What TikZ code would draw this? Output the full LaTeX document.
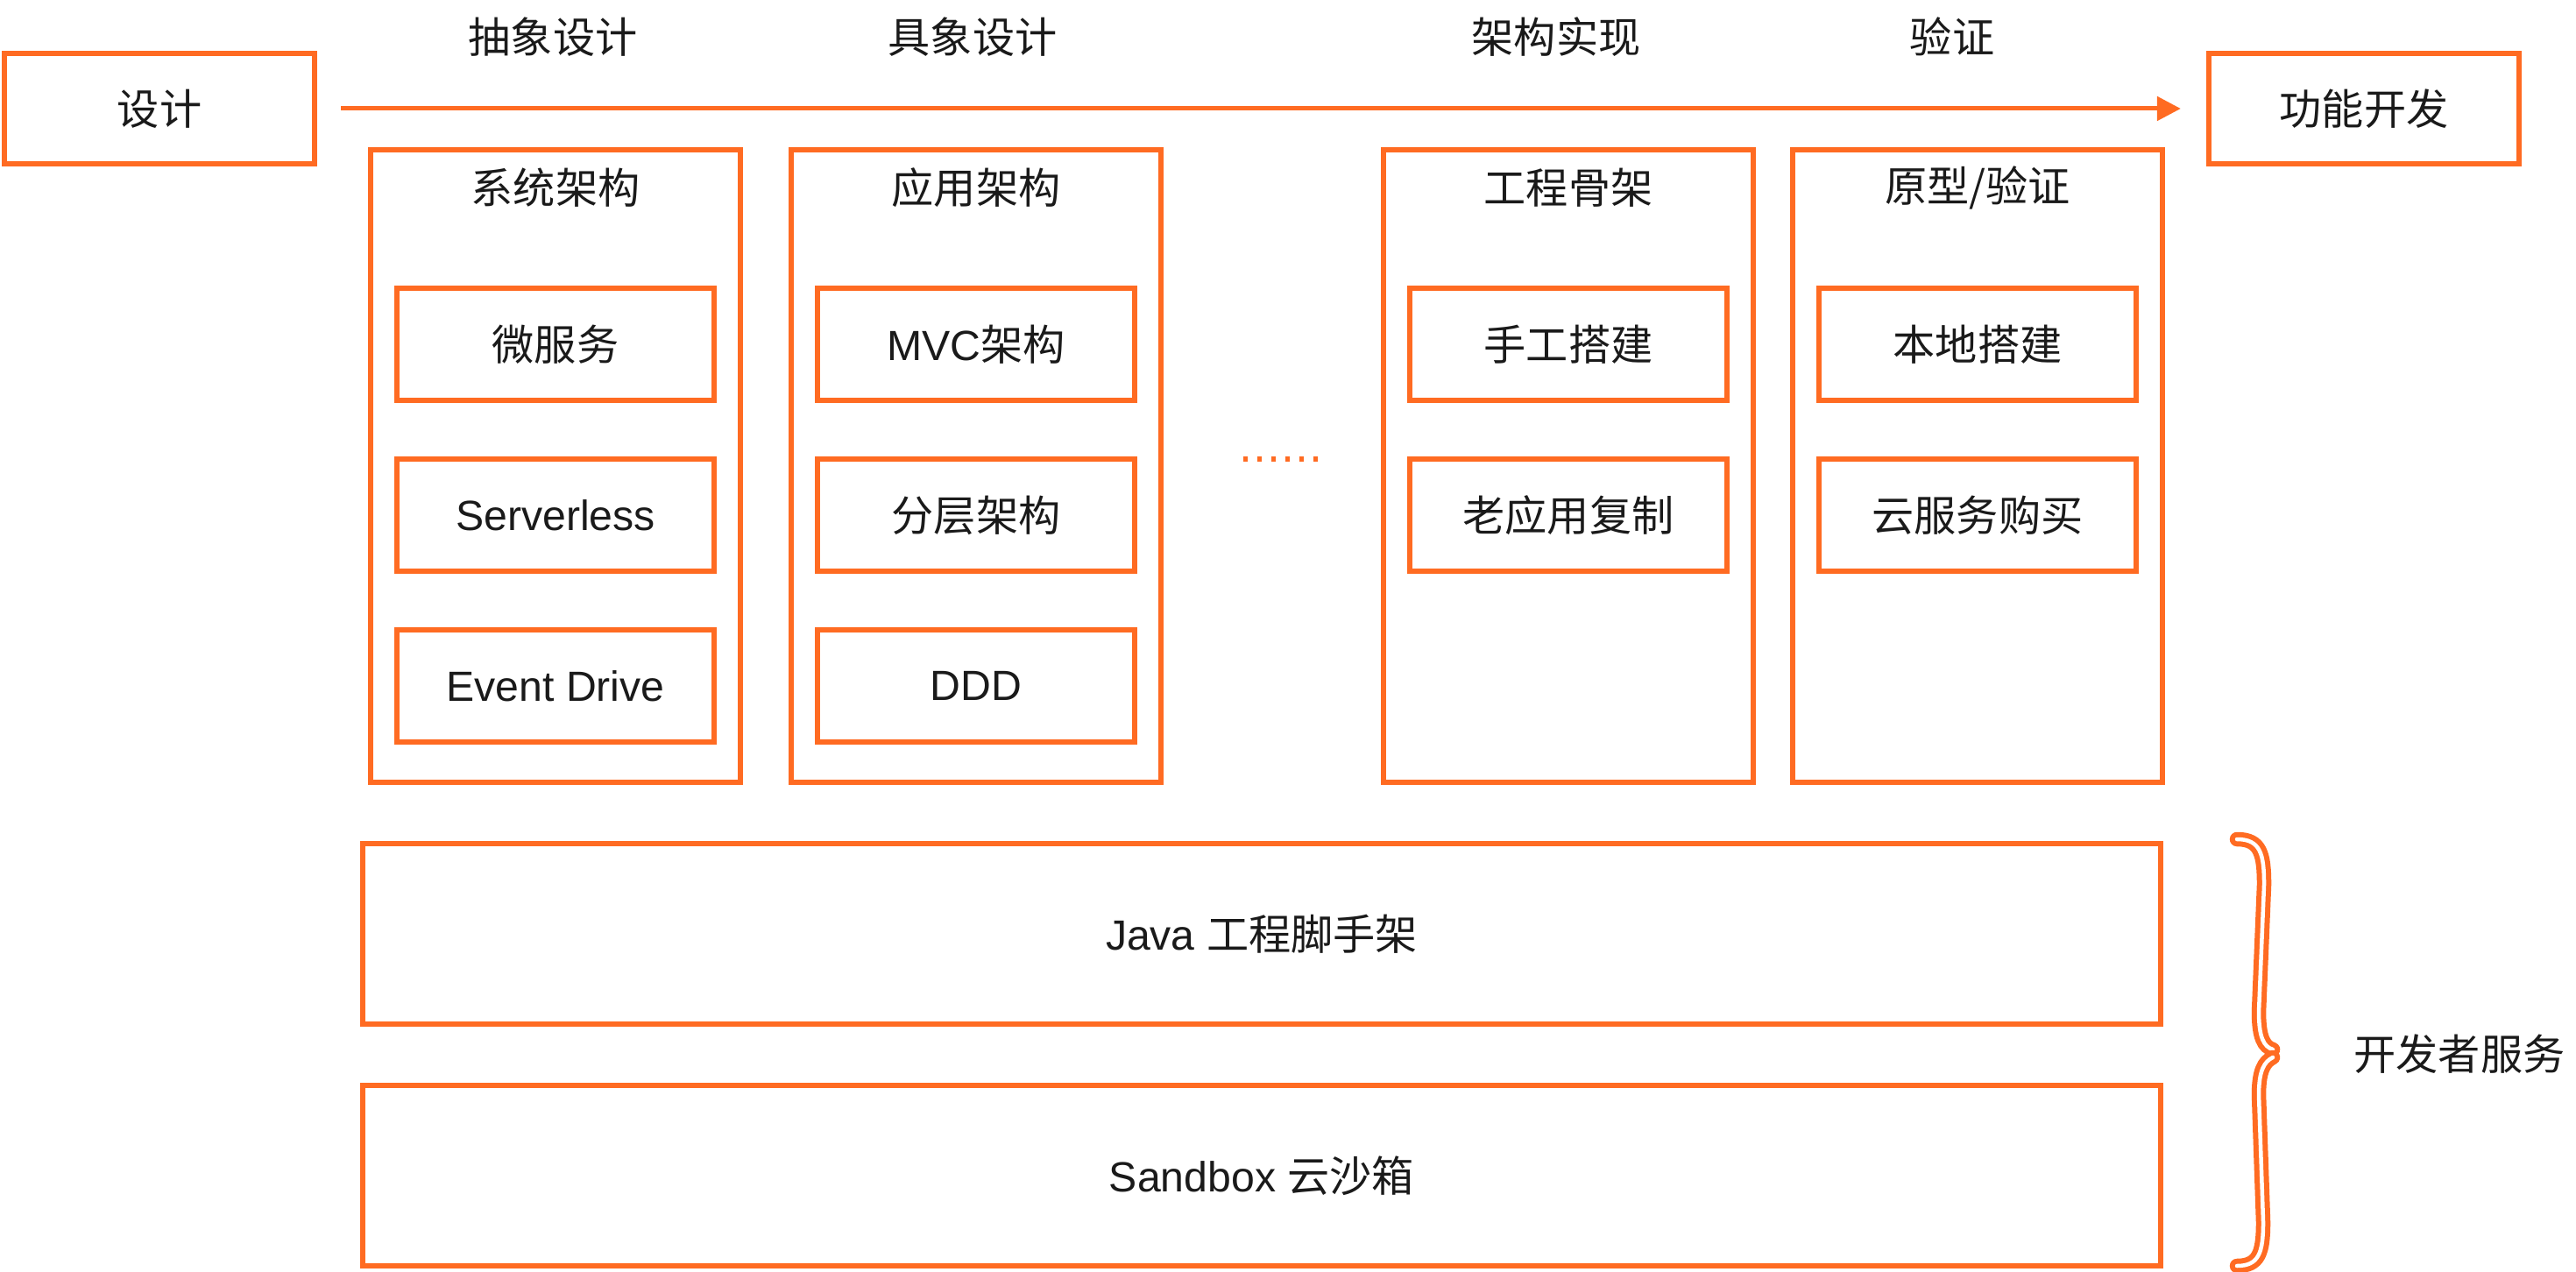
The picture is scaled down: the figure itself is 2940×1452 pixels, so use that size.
\documentclass[tikz,border=0pt]{standalone}
\usepackage{fontspec}
\setmainfont{Liberation Sans}
\newfontfamily\cjk{Noto Sans CJK SC}
\usetikzlibrary{arrows.meta, positioning}
\definecolor{dsorange}{HTML}{FF6B22}
\definecolor{dsink}{HTML}{1A1A1A}
\newcommand{\zh}[1]{{\cjk #1}}

\begin{document}
\begin{tikzpicture}[x=0.01cm, y=-0.01cm,
    font=\fontsize{13.7pt}{16pt}\selectfont, text=dsink,
    box/.style={draw=dsorange, line width=0.06cm, inner sep=0pt},
    endbox/.style={box, minimum width=3.54cm, minimum height=1.26cm},
    colbox/.style={box, minimum width=4.22cm, minimum height=7.22cm},
    itembox/.style={box, minimum width=3.62cm, minimum height=1.28cm},
    layerbox/.style={box, minimum width=20.5cm, minimum height=2.06cm},
    bracepart/.style={draw=dsorange, double=white, line width=0.06cm,
                      double distance=0.045cm, line cap=round}]
  \useasboundingbox (0,0) rectangle (2940,1452);
  % flow
  \node[endbox] (design) at (182,124) {\zh{设计}};
  \node[endbox] (feature) at (2698,124) {\zh{功能开发}};
  \draw[dsorange, line width=0.05cm, -{Triangle[length=0.27cm, width=0.27cm]},
        shorten <=0.27cm, shorten >=0.29cm] (design) -- (feature);
  \node (abstract) at (631,42) {\zh{抽象设计}};
  \node (concrete) at (1110,42) {\zh{具象设计}};
  \node (implement) at (1776,42) {\zh{架构实现}};
  \node (verify) at (2228,42) {\zh{验证}};
  % system architecture
  \node[colbox] (sys) at (634,532) {};
  \node (sysT) at (634,214) {\zh{系统架构}};
  \node[itembox] (micro) at (634,393) {\zh{微服务}};
  \node[itembox, below=0.61cm of micro] (serverless) {Serverless};
  \node[itembox, below=0.61cm of serverless] (event) {Event Drive};
  % application architecture
  \node[colbox] (app) at (1114,532) {};
  \node (appT) at (1114,214) {\zh{应用架构}};
  \node[itembox] (mvc) at (1114,393) {MVC\zh{架构}};
  \node[itembox, below=0.61cm of mvc] (layered) {\zh{分层架构}};
  \node[itembox, below=0.61cm of layered] (ddd) {DDD};
  % more
  \draw[dsorange, line width=0.055cm, dash pattern=on 0.055cm off 0.105cm]
        (1418.5,524) -- (1505,524);
  % skeleton
  \node[colbox] (skel) at (1790,532) {};
  \node (skelT) at (1790,214) {\zh{工程骨架}};
  \node[itembox] (manual) at (1790,393) {\zh{手工搭建}};
  \node[itembox, below=0.61cm of manual] (copy) {\zh{老应用复制}};
  % prototype
  \node[colbox] (proto) at (2257,532) {};
  \node (protoT) at (2257,214) {\zh{原型/验证}};
  \node[itembox] (local) at (2257,393) {\zh{本地搭建}};
  \node[itembox, below=0.61cm of local] (cloud) {\zh{云服务购买}};
  % developer services
  \node[layerbox] (java) at (1440,1066) {Java \zh{工程脚手架}};
  \node[layerbox] (sandbox) at (1440,1342) {Sandbox \zh{云沙箱}};
  \draw[bracepart] (2553,958) .. controls (2580,958) and (2584,975) .. (2584,1010)
        -- (2578,1155) .. controls (2578,1185) and (2584,1195) .. (2594,1198);
  \draw[bracepart] (2594,1207) .. controls (2584,1212) and (2578,1222) .. (2578,1250)
        -- (2583,1395) .. controls (2583,1430) and (2578,1445) .. (2553,1445);
  \node (devsvc) at (2807,1203) {\zh{开发者服务}};
\end{tikzpicture}
\end{document}
